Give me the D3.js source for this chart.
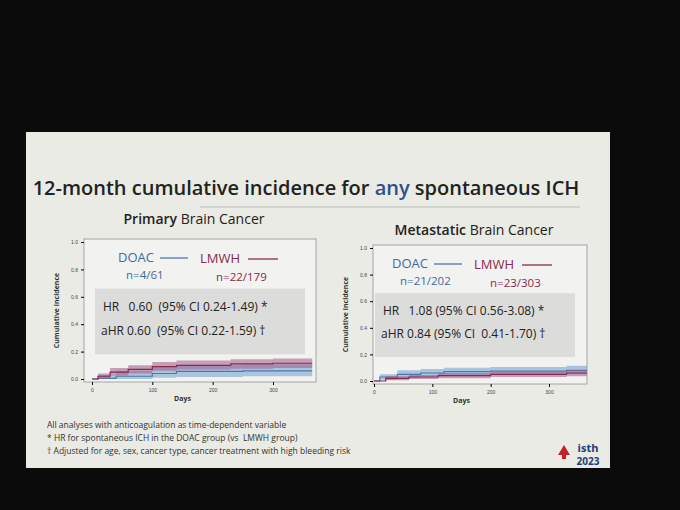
<!DOCTYPE html>
<html><head><meta charset="utf-8">
<script src="https://cdn.jsdelivr.net/npm/d3@7"></script>
<style>body{margin:0;background:#0b0b0b} text{white-space:pre}</style>
</head><body><svg id="c" width="680" height="510"></svg>
<script>
// step curves: [day, estimate, lower, upper]
const leftDoac = [[0,0,0,0],[10,0.005,0,0.03],[40,0.02,0,0.06],[100,0.04,0.01,0.09],[140,0.055,0.015,0.1],[250,0.06,0.02,0.105],[365,0.06,0.02,0.105]];
const leftLmwh = [[0,0,0,0],[10,0.02,0.005,0.04],[30,0.05,0.025,0.08],[60,0.07,0.04,0.1],[100,0.09,0.06,0.125],[140,0.1,0.07,0.135],[230,0.11,0.075,0.145],[300,0.115,0.08,0.15],[365,0.115,0.08,0.15]];
const rightDoac = [[0,0,0,0],[10,0.03,0.01,0.05],[40,0.05,0.025,0.08],[80,0.06,0.035,0.09],[120,0.07,0.04,0.1],[200,0.075,0.045,0.105],[330,0.08,0.05,0.115],[365,0.08,0.05,0.115]];
const rightLmwh = [[0,0,0,0],[20,0.02,0.005,0.035],[60,0.03,0.015,0.045],[110,0.04,0.02,0.06],[200,0.05,0.03,0.07],[330,0.06,0.035,0.08],[365,0.06,0.035,0.08]];
const yTicks = [0, 0.2, 0.4, 0.6, 0.8, 1.0];
const xTicks = [0, 100, 200, 300];

const svg = d3.select("#c");
svg.append("rect").attr("x",26).attr("y",132).attr("width",584).attr("height",336).attr("fill","#e9ebe4");
svg.append("text").attr("x",306).attr("y",195).attr("text-anchor","middle").attr("font-family","Open Sans").attr("font-size",20).attr("font-weight",600).attr("fill","#222")
  .html('12-month cumulative incidence for <tspan fill="#2d4f8a">any</tspan> spontaneous ICH');
svg.append("line").attr("x1",200).attr("x2",580).attr("y1",207).attr("y2",207).attr("stroke","#bbb");

function panel(o){
  const g = svg.append("g");
  const x = d3.scaleLinear().domain([0,300]).range([o.x0,o.x300]);
  const y = d3.scaleLinear().domain([0,1]).range([o.yb,o.yt]);
  g.append("text").attr("x",o.tx).attr("y",o.ty).attr("text-anchor","middle").attr("font-family","Open Sans").attr("font-size",14).attr("fill","#222")
    .html('<tspan font-weight="600">'+o.kind+'</tspan> Brain Cancer');
  g.append("rect").attr("x",o.l).attr("y",o.yt-3).attr("width",o.r-o.l).attr("height",o.yb-o.yt+6).attr("fill","#f2f2f0").attr("stroke","#888").attr("stroke-width",0.7);
  g.append("g").attr("transform",`translate(${o.l},0)`).call(d3.axisLeft(y).tickValues(yTicks).tickFormat(d3.format(".1f")).tickSize(3))
    .call(a=>{a.select(".domain").remove();a.selectAll("text").attr("font-size",5).attr("fill","#444");});
  g.append("g").attr("transform",`translate(0,${o.yb+3})`).call(d3.axisBottom(x).tickValues(xTicks).tickSize(3))
    .call(a=>{a.select(".domain").remove();a.selectAll("text").attr("font-size",5).attr("fill","#444");});
  g.append("text").attr("x",x(150)).attr("y",o.yb+22).attr("text-anchor","middle").attr("font-family","Open Sans").attr("font-size",7).attr("font-weight","bold").attr("fill","#333").text("Days");
  g.append("text").attr("transform",`translate(${o.l-25},${(o.yt+o.yb)/2}) rotate(-90)`).attr("text-anchor","middle").attr("font-family","Open Sans").attr("font-size",7).attr("font-weight","bold").attr("fill","#333").text("Cumulative incidence");
  const area = d3.area().curve(d3.curveStepAfter).x(d=>x(d[0])).y0(d=>y(d[2])).y1(d=>y(d[3]));
  const line = d3.line().curve(d3.curveStepAfter).x(d=>x(d[0])).y(d=>y(d[1]));
  [[o.doac,"#6f9fd0","#4b78b0"],[o.lmwh,"#a05a8a","#8a2a4a"]].forEach(([d,f,s])=>{
    g.append("path").attr("d",area(d)).attr("fill",f).attr("opacity",0.55);
    g.append("path").attr("d",line(d)).attr("fill","none").attr("stroke",s).attr("stroke-width",1.2);
  });
  // legend
  const ff="Open Sans";
  g.append("text").attr("x",o.lgx).attr("y",o.yt+20).attr("font-family",ff).attr("font-size",13).attr("fill","#3d6aa0").text("DOAC");
  g.append("line").attr("x1",o.lgx+42).attr("x2",o.lgx+70).attr("y1",o.yt+16).attr("y2",o.yt+16).attr("stroke","#4b78b0").attr("stroke-width",1.3);
  g.append("text").attr("x",o.lgx+82).attr("y",o.yt+21).attr("font-family",ff).attr("font-size",13).attr("fill","#8a2a4a").text("LMWH");
  g.append("line").attr("x1",o.lgx+130).attr("x2",o.lgx+160).attr("y1",o.yt+17).attr("y2",o.yt+17).attr("stroke","#8a2a4a").attr("stroke-width",1.3);
  g.append("text").attr("x",o.lgx+8).attr("y",o.yt+37).attr("font-family",ff).attr("font-size",11.5).attr("fill","#3d6aa0").text(o.n1);
  g.append("text").attr("x",o.lgx+98).attr("y",o.yt+39).attr("font-family",ff).attr("font-size",11.5).attr("fill","#8a2a4a").text(o.n2);
  g.append("rect").attr("x",o.bx).attr("y",y(0.66)).attr("width",o.bw).attr("height",y(0.18)-y(0.66)).attr("fill","#dcdcdb");
  g.append("text").attr("x",o.bx+8).attr("y",y(0.5)).attr("font-family",ff).attr("font-size",12).attr("fill","#222").text(o.hr);
  g.append("text").attr("x",o.bx+6).attr("y",y(0.32)).attr("font-family",ff).attr("font-size",12).attr("fill","#222").text(o.ahr);
}
panel({kind:"Primary",tx:194,ty:224,l:84,r:316,yt:242,yb:379,x0:92,x300:273,doac:leftDoac,lmwh:leftLmwh,lgx:118,n1:"n=4/61",n2:"n=22/179",
  bx:95,bw:210,hr:"HR   0.60  (95% CI 0.24-1.49) *",ahr:"aHR 0.60  (95% CI 0.22-1.59) †"});
panel({kind:"Metastatic",tx:474,ty:235,l:373,r:587,yt:248,yb:381,x0:374,x300:549,doac:rightDoac,lmwh:rightLmwh,lgx:392,n1:"n=21/202",n2:"n=23/303",
  bx:375,bw:200,hr:"HR   1.08 (95% CI 0.56-3.08) *",ahr:"aHR 0.84 (95% CI  0.41-1.70) †"});

const notes = ["All analyses with anticoagulation as time-dependent variable","* HR for spontaneous ICH in the DOAC group (vs  LMWH group)","† Adjusted for age, sex, cancer type, cancer treatment with high bleeding risk"];
svg.selectAll(".note").data(notes).join("text").attr("x",47).attr("y",(d,i)=>428+i*13).attr("font-family","Open Sans").attr("font-size",8.5).attr("fill","#333").text(d=>d);
svg.append("text").attr("x",588).attr("y",452).attr("text-anchor","middle").attr("font-family","Open Sans").attr("font-size",11).attr("font-weight","bold").attr("fill","#1c3d7a").text("isth");
svg.append("text").attr("x",588).attr("y",465).attr("text-anchor","middle").attr("font-family","Open Sans").attr("font-size",10).attr("font-weight","bold").attr("fill","#1c3d7a").text("2023");
svg.append("path").attr("d","M558,455 l6,-10 l6,10 l-4,0 l0,4 l-4,0 l0,-4z").attr("fill","#c0242a");
</script></body></html>
